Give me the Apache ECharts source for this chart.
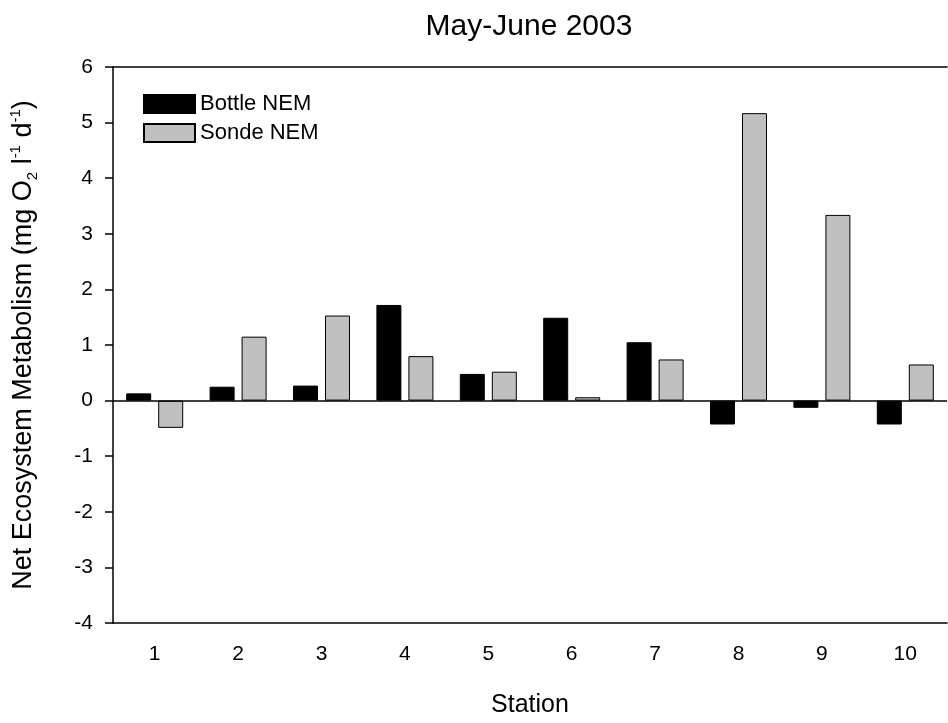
<!DOCTYPE html>
<html>
<head>
<meta charset="utf-8">
<script src="https://cdn.jsdelivr.net/npm/echarts@6/dist/echarts.min.js"></script>
<style>
  html, body { margin: 0; padding: 0; background: #fff; }
  #nem_chart { width: 948px; height: 723px; }
</style>
</head>
<body>
<div id="nem_chart"></div>
<script>
var stations = ['1', '2', '3', '4', '5', '6', '7', '8', '9', '10'];
var bottleNEM = [0.13, 0.25, 0.27, 1.72, 0.48, 1.49, 1.05, -0.43, -0.13, -0.43];
var sondeNEM = [-0.49, 1.15, 1.53, 0.80, 0.52, 0.06, 0.74, 5.17, 3.34, 0.65];
var yTicks = { min: -4, max: 6, step: 1 };

var font = '"Liberation Sans", Arial, sans-serif';

var chart = echarts.init(document.getElementById('nem_chart'));
var option = {
  backgroundColor: '#fff',
  animation: false,
  textStyle: { fontFamily: font, color: '#000' },
  title: {
    text: 'May-June 2003',
    left: 524,
    textAlign: 'center',
    top: 7,
    textStyle: { fontFamily: font, fontSize: 30, fontWeight: 'normal', color: '#000' }
  },
  legend: {
    orient: 'vertical',
    left: 138,
    top: 88,
    itemWidth: 51,
    itemHeight: 18,
    itemGap: 7,
    icon: 'rect',
    textStyle: { fontFamily: font, fontSize: 22, color: '#000' },
    data: ['Bottle NEM', 'Sonde NEM']
  },
  grid: { left: 113, right: 1, top: 67, bottom: 100, containLabel: false, outerBoundsMode: 'none' },
  xAxis: [
    {
      type: 'category',
      data: stations,
      position: 'bottom',
      axisLine: { onZero: false, lineStyle: { color: '#000', width: 1.5 } },
      axisTick: { alignWithLabel: true, length: 8, lineStyle: { color: '#000', width: 1.5 } },
      axisLabel: { fontFamily: font, fontSize: 21, color: '#000', margin: 21 },
      name: 'Station',
      nameLocation: 'middle',
      nameGap: 70,
      nameTextStyle: { fontFamily: font, fontSize: 25, color: '#000' }
    },
    {
      type: 'category',
      data: stations,
      position: 'top',
      axisLine: { onZero: false, lineStyle: { color: '#000', width: 1.5 } },
      axisTick: { show: false },
      axisLabel: { show: false }
    }
  ],
  yAxis: {
    type: 'value',
    min: yTicks.min,
    max: yTicks.max,
    interval: yTicks.step,
    splitLine: { show: false },
    axisLine: { show: true, onZero: false, lineStyle: { color: '#000', width: 1.5 } },
    axisTick: { show: true, length: 8, lineStyle: { color: '#000', width: 1.5 } },
    axisLabel: { fontFamily: font, fontSize: 21, color: '#000', margin: 20 },
    name: 'Net Ecosystem Metabolism (mg O{sub|2} l{sup|-1} d{sup|-1})',
    nameLocation: 'middle',
    nameRotate: 90,
    nameGap: 73,
    nameTextStyle: {
      fontFamily: font, fontSize: 27, color: '#000', lineHeight: 32,
      rich: {
        sub: { fontFamily: font, fontSize: 15, color: '#000', verticalAlign: 'bottom', lineHeight: 32 },
        sup: { fontFamily: font, fontSize: 15, color: '#000', verticalAlign: 'top', lineHeight: 32 }
      }
    }
  },
  series: [
    {
      name: 'Bottle NEM',
      type: 'bar',
      data: bottleNEM,
      barWidth: 25,
      barGap: '28%',
      itemStyle: { color: '#000', borderColor: '#000', borderWidth: 1 },
      markLine: {
        silent: true,
        symbol: 'none',
        label: { show: false },
        lineStyle: { color: '#000', type: 'solid', width: 1.5 },
        data: [{ yAxis: 0 }]
      }
    },
    {
      name: 'Sonde NEM',
      type: 'bar',
      data: sondeNEM,
      barWidth: 25,
      itemStyle: { color: '#c0c0c0', borderColor: '#000', borderWidth: 1 }
    }
  ]
};
chart.setOption(option);
</script>
</body>
</html>
